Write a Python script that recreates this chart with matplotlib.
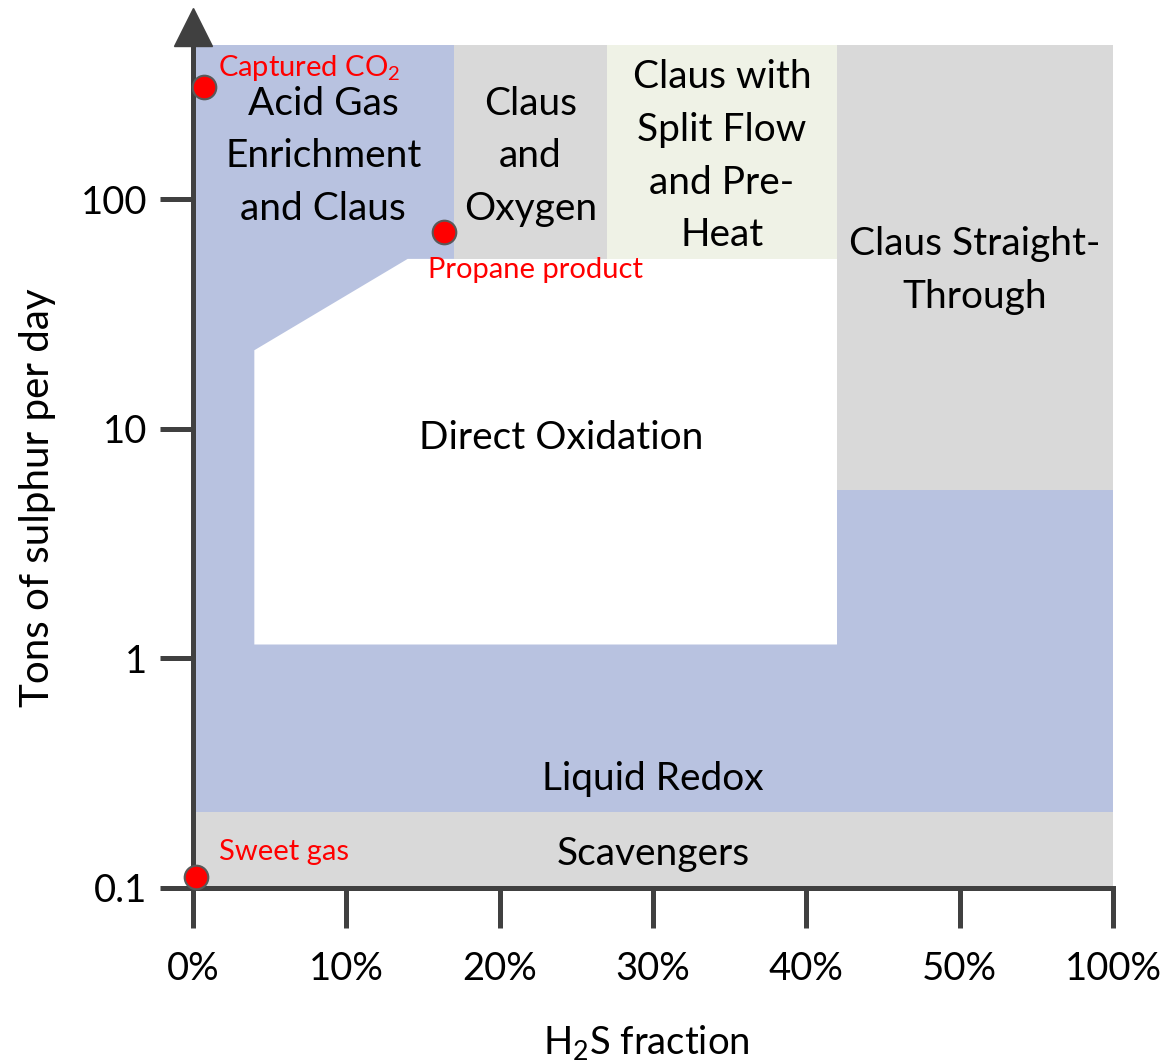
import matplotlib
matplotlib.use('Agg')
import matplotlib.pyplot as plt
from matplotlib.patches import Polygon
import numpy as np

plt.rcParams['font.family'] = ['Lato', 'DejaVu Sans']
plt.rcParams['mathtext.fontset'] = 'custom'
plt.rcParams['mathtext.rm'] = 'Lato'
plt.rcParams['mathtext.it'] = 'Lato:italic'

# axis ticks
x_ticks = [0, 10, 20, 30, 40, 50, 100]
x_labels = ['0%', '10%', '20%', '30%', '40%', '50%', '100%']
y_ticks = [0.1, 1, 10, 100]
y_labels = ['0.1', '1', '10', '100']
y_min, y_max = 0.1, 470

# region outlines (H2S %, tons/day)
scav_x = [0, 100, 100, 0]
scav_y = [0.1, 0.1, 0.215, 0.215]
redox_x = [0, 100, 100, 0]
redox_y = [0.215, 0.215, 470, 470]
direct_x = [4, 4, 14, 42, 42]
direct_y = [1.15, 22, 55, 55, 1.15]
oxygen_x = [17, 27, 27, 17]
oxygen_y = [55, 55, 470, 470]
split_x = [27, 42, 42, 27]
split_y = [55, 55, 470, 470]
straight_x = [42, 100, 100, 42]
straight_y = [5.4, 5.4, 470, 470]

# marked gas streams
pt_names = ['Captured CO$_\\mathrm{2}$', 'Propane product', 'Sweet gas']
pt_x = [0.7, 16.4, 0.2]
pt_y = [309, 72, 0.112]

blue = '#B8C2E0'
grey = '#D9D9D9'
pale = '#EFF2E6'
axcol = '#404040'


def fwd(x):
    return np.interp(x, x_ticks, np.arange(len(x_ticks)))


def inv(p):
    return np.interp(p, np.arange(len(x_ticks)), x_ticks)


fig = plt.figure(figsize=(11.67, 10.64), dpi=100)
ax = fig.add_axes([193/1167, 1-888/1064, (1113-193)/1167, (888-45)/1064])
ax.set_xscale('function', functions=(fwd, inv))
ax.set_yscale('log')
ax.set_xlim(0, 100)
ax.set_ylim(y_min, y_max)

for xs, ys, c in [(redox_x, redox_y, blue), (scav_x, scav_y, grey),
                  (direct_x, direct_y, 'white'), (oxygen_x, oxygen_y, grey),
                  (split_x, split_y, pale), (straight_x, straight_y, grey)]:
    ax.add_patch(Polygon(list(zip(xs, ys)), closed=True, fc=c, ec='none', zorder=1))

fs = 28
ls = 1.57
ax.text(8.5, 154, 'Acid Gas\nEnrichment\nand Claus', ha='center', va='center', fontsize=fs, linespacing=ls)
ax.text(22, 154, 'Claus\nand\nOxygen', ha='center', va='center', fontsize=fs, linespacing=ls)
ax.text(34.5, 154, 'Claus with\nSplit Flow\nand Pre-\nHeat', ha='center', va='center', fontsize=fs, linespacing=ls)
ax.text(55, 49, 'Claus Straight-\nThrough', ha='center', va='center', fontsize=fs, linespacing=ls)
ax.text(24, 9.1, 'Direct Oxidation', ha='center', va='center', fontsize=fs)
ax.text(30, 0.298, 'Liquid Redox', ha='center', va='center', fontsize=fs)
ax.text(30, 0.140, 'Scavengers', ha='center', va='center', fontsize=fs)

ax.plot(pt_x, pt_y, 'o', ms=17, mfc='red', mec='#595959', mew=1.5, clip_on=False, zorder=5)
ax.text(1.6, 372, pt_names[0], color='red', fontsize=21, ha='left', va='center')
ax.text(15.3, 49.0, pt_names[1], color='red', fontsize=21, ha='left', va='center')
ax.text(1.7, 0.143, pt_names[2], color='red', fontsize=21, ha='left', va='center')

for s in ['top', 'right']:
    ax.spines[s].set_visible(False)
for s in ['left', 'bottom']:
    ax.spines[s].set_linewidth(3.6)
    ax.spines[s].set_color(axcol)
    ax.spines[s].set_zorder(4)

ax.set_xticks(x_ticks)
ax.set_xticklabels(x_labels)
ax.set_yticks(y_ticks)
ax.set_yticklabels(y_labels)
ax.minorticks_off()
ax.tick_params(axis='x', length=29, width=3.6, color=axcol, pad=16, labelsize=27.5)
ax.tick_params(axis='y', length=24, width=3.6, color=axcol, pad=9, labelsize=27.5)

# arrow head on top of the y axis
ax.plot([0], [1.021], marker='^', ms=27, color=axcol, transform=ax.get_xaxis_transform(), clip_on=False)

ax.set_xlabel('H$_\\mathrm{2}$S fraction', fontsize=27.5, labelpad=26)
ax.set_ylabel('Tons of sulphur per day', fontsize=29, labelpad=18)
ax.xaxis.label.set_x(0.4924)
ax.yaxis.label.set_y(0.4626)

fig.savefig('out.png', dpi=100)
